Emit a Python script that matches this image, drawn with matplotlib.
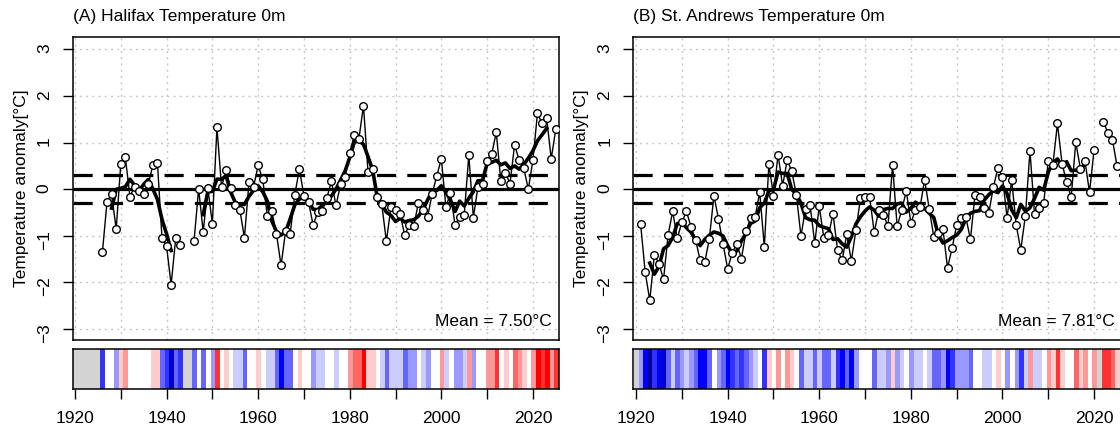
import numpy as np
import pandas as pd
import matplotlib
matplotlib.use("Agg")
import matplotlib.pyplot as plt
from matplotlib.colors import to_rgb

plt.rcParams['font.family'] = ['Liberation Sans', 'DejaVu Sans']

W, H = 1120, 433
nan = np.nan

# Halifax, 0 m, annual anomaly (deg C), 1926-2025
halifax_years = np.arange(1926, 2026)
halifax_anom = [
    -1.34, -0.27, -0.11, -0.86, 0.54, 0.68, -0.16, 0.05, -0.05, -0.10,   # 1926-1935
    0.10, 0.51, 0.57, -1.05, -1.23, -2.05, -1.05, -1.21, nan, nan,       # 1936-1945
    -1.12, 0.01, -0.92, 0.03, -0.74, 1.33, 0.05, 0.40, 0.02, -0.35,      # 1946-1955
    -0.44, -1.05, 0.15, 0.05, 0.51, 0.21, -0.57, -0.48, -0.96, -1.64,    # 1956-1965
    -0.90, -0.96, -0.12, 0.43, -0.14, -0.28, -0.77, -0.50, -0.47, -0.19, # 1966-1975
    0.17, -0.35, 0.10, 0.27, 0.78, 1.16, 1.08, 1.79, 0.36, 0.43,         # 1976-1985
    -0.18, -0.33, -1.12, -0.39, -0.45, -0.53, -0.99, -0.77, -0.79, -0.29,# 1986-1995
    -0.45, -0.60, -0.10, 0.28, 0.65, -0.38, -0.09, -0.77, -0.60, -0.56,  # 1996-2005
    0.73, -0.61, 0.05, 0.12, 0.61, 0.75, 1.22, 0.17, 0.35, 0.12,         # 2006-2015
    0.95, 0.62, 0.45, 0.00, 0.62, 1.63, 1.41, 1.53, 0.65, 1.29,          # 2016-2025
]
halifax_mean = 7.50

# St. Andrews, 0 m, annual anomaly (deg C), 1921-2025
standrews_years = np.arange(1921, 2026)
standrews_anom = [
    -0.75, -1.79, -2.39, -1.41, -1.60, -1.94, -0.98, -0.48, -1.06, -0.71, # 1921-1930
    -0.48, -0.81, -1.09, -1.53, -1.57, -1.07, -0.14, -0.64, -1.18, -1.71, # 1931-1940
    -1.37, -1.17, -1.49, -0.91, -0.62, -0.59, -0.07, -1.24, 0.53, -0.14,  # 1941-1950
    0.74, 0.07, 0.63, 0.38, -0.12, -1.01, -0.42, -0.34, -1.16, -0.37,     # 1951-1960
    -1.05, -0.99, -0.53, -1.31, -1.53, -0.97, -1.54, -0.88, -0.20, -0.16, # 1961-1970
    -0.18, -0.93, -0.44, -0.55, -0.80, 0.52, -0.80, -0.45, -0.04, -0.73,  # 1971-1980
    -0.44, -0.39, 0.20, -0.42, -1.02, -0.95, -0.86, -1.69, -1.27, -0.77,  # 1981-1990
    -0.61, -0.60, -1.08, -0.13, -0.17, -0.41, -0.52, 0.04, 0.45, 0.27,    # 1991-2000
    -0.62, 0.20, -0.78, -1.30, -0.57, 0.82, -0.54, -0.41, -0.29, 0.61,    # 2001-2010
    0.52, 1.41, 0.55, 0.15, -0.17, 1.01, 0.44, 0.61, -0.07, 0.85,         # 2011-2020
    nan, 1.45, 1.21, 1.06, 0.50,                                          # 2021-2025
]
standrews_mean = 7.81

stripe_years = np.arange(1920, 2026)
blues = ['#ffffff', '#ccccff', '#9999ff', '#6666ff', '#3333ff', '#0000ff', '#0000cc', '#000099']
reds = ['#ffffff', '#ffcccc', '#ff9999', '#ff6666', '#ff3333', '#ff0000', '#cc0000', '#990000']


def stripe_color(v):
    if np.isnan(v):
        return '#d3d3d3'
    lev = min(int(abs(v) / 0.3), 7)
    return reds[lev] if v > 0 else blues[lev]


def px_axes(fig, x0, y0, x1, y1):
    # pixel box (top-left origin) -> figure axes
    return fig.add_axes([x0 / W, 1 - y1 / H, (x1 - x0) / W, (y1 - y0) / H])


def draw_panel(fig, x0, x1, xlim, years, anom, title, mean):
    s = pd.Series(anom, index=years).reindex(stripe_years)
    smooth = s.rolling(5, center=True).mean()

    ax = px_axes(fig, x0, 37.3, x1, 340)
    ax.set_xlim(*xlim)
    ax.set_ylim(-3.24, 3.26)
    for xv in range(1920, 2030, 10):
        ax.axvline(xv, color='#c8c8c8', lw=1, ls=(0, (1.5, 3)), zorder=0)
    for yv in range(-3, 4):
        ax.axhline(yv, color='#c8c8c8', lw=1, ls=(0, (1.5, 3)), zorder=0)
    ax.axhline(0, color='black', lw=2.3, zorder=1)
    ax.axhline(0.3, color='black', lw=2.3, ls=(0, (6, 3.5)), zorder=1)
    ax.axhline(-0.3, color='black', lw=2.3, ls=(0, (6, 3.5)), zorder=1)
    ax.plot(s.index, s.values, color='black', lw=1, zorder=2)
    ax.plot(smooth.index, smooth.values, color='black', lw=2.6, zorder=3)
    ax.plot(s.index, s.values, ls='none', marker='o', ms=5.5, mfc='white',
            mec='black', mew=1, zorder=4)
    ax.set_xticks([])
    ax.set_yticks(range(-3, 4))
    ax.tick_params(axis='y', length=7, width=1, labelsize=12.5, pad=8,
                   labelrotation=90)
    for sp in ax.spines.values():
        sp.set_linewidth(1.1)
    ax.set_ylabel('Temperature anomaly[°C]', fontsize=12.5, labelpad=6)
    ax.text(0.985, 0.062, 'Mean = {:.2f}°C'.format(mean), transform=ax.transAxes,
            ha='right', va='center', fontsize=12.5)
    fig.text(x0 / W, 1 - 17 / H, title, ha='left', va='center', fontsize=12.5)

    # warming stripes
    sx = px_axes(fig, x0, 349, x1, 389)
    rgb = np.array([[to_rgb(stripe_color(v)) for v in s.values]])
    sx.imshow(rgb, aspect='auto', interpolation='nearest',
              extent=(stripe_years[0] - 0.5, stripe_years[-1] + 0.5, 0, 1))
    sx.set_xlim(*xlim)
    sx.set_ylim(0, 1)
    sx.set_yticks([])
    ticks = list(range(1920, 2030, 10))
    sx.set_xticks(ticks)
    sx.set_xticklabels([str(t) if t % 20 == 0 else '' for t in ticks])
    sx.tick_params(axis='x', length=7, width=1, labelsize=12.5, pad=9)
    for sp in sx.spines.values():
        sp.set_linewidth(1.1)
    return ax, sx


fig = plt.figure(figsize=(W / 100, H / 100), dpi=100)
draw_panel(fig, 72.7, 559, (1919.5, 2025.7), halifax_years, halifax_anom,
           '(A) Halifax Temperature 0m', halifax_mean)
draw_panel(fig, 633.3, 1122.5, (1919.4, 2026.2), standrews_years, standrews_anom,
           '(B) St. Andrews Temperature 0m', standrews_mean)

fig.savefig('out.png', dpi=100)
